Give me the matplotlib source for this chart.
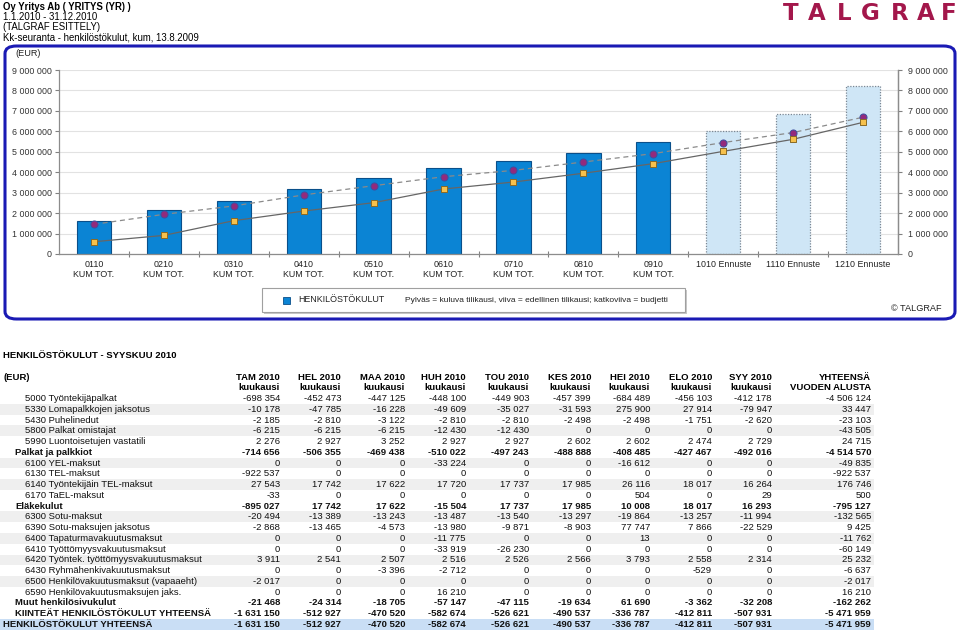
import matplotlib
matplotlib.use("Agg")
import matplotlib.pyplot as plt
from matplotlib.patches import Rectangle, FancyBboxPatch
import numpy as np

plt.rcParams['font.family'] = ['Liberation Sans', 'DejaVu Sans']

W, H = 959, 632

# ---------------- chart data ----------------
categories = ["0110\nKUM TOT.", "0210\nKUM TOT.", "0310\nKUM TOT.", "0410\nKUM TOT.",
              "0510\nKUM TOT.", "0610\nKUM TOT.", "0710\nKUM TOT.", "0810\nKUM TOT.",
              "0910\nKUM TOT.", "1010 Ennuste", "1110 Ennuste", "1210 Ennuste"]
actual = [1631150, 2144077, 2614597, 3197271, 3723892, 4214429, 4551216, 4964027, 5471958]
forecast = [6020000, 6830000, 8220000]
budget = [1450000, 1940000, 2350000, 2890000, 3340000, 3780000, 4090000, 4500000,
          4910000, 5450000, 5940000, 6690000]
previous = [600000, 910000, 1630000, 2100000, 2510000, 3180000, 3520000, 3950000,
            4420000, 5020000, 5610000, 6440000]
yticks = [0, 1000000, 2000000, 3000000, 4000000, 5000000, 6000000, 7000000, 8000000, 9000000]

# ---------------- table data ----------------
col_heads = ["TAM 2010", "HEL 2010", "MAA 2010", "HUH 2010", "TOU 2010", "KES 2010",
             "HEI 2010", "ELO 2010", "SYY 2010", "YHTEENSÄ"]
col_sub = ["kuukausi"] * 9 + ["VUODEN ALUSTA"]
row_labels = ["5000 Työntekijäpalkat", "5330 Lomapalkkojen jaksotus", "5430 Puhelinedut",
              "5800 Palkat omistajat", "5990 Luontoisetujen vastatili", "Palkat ja palkkiot",
              "6100 YEL-maksut", "6130 TEL-maksut", "6140 Työntekijäin TEL-maksut",
              "6170 TaEL-maksut", "Eläkekulut", "6300 Sotu-maksut", "6390 Sotu-maksujen jaksotus",
              "6400 Tapaturmavakuutusmaksut", "6410 Työttömyysvakuutusmaksut",
              "6420 Työntek. työttömyysvakuutusmaksut", "6430 Ryhmähenkivakuutusmaksut",
              "6500 Henkilövakuutusmaksut (vapaaeht)", "6590 Henkilövakuutusmaksujen jaks.",
              "Muut henkilösivukulut", "KIINTEÄT HENKILÖSTÖKULUT YHTEENSÄ",
              "HENKILÖSTÖKULUT YHTEENSÄ"]
row_kind = ["d", "d", "d", "d", "d", "s", "d", "d", "d", "d", "s", "d", "d", "d", "d", "d",
            "d", "d", "d", "s", "s", "t"]
table_values = [
    [-698354, -452473, -447125, -448100, -449903, -457399, -684489, -456103, -412178, -4506124],
    [-10178, -47785, -16228, -49609, -35027, -31593, 275900, 27914, -79947, 33447],
    [-2185, -2810, -3122, -2810, -2810, -2498, -2498, -1751, -2620, -23103],
    [-6215, -6215, -6215, -12430, -12430, 0, 0, 0, 0, -43505],
    [2276, 2927, 3252, 2927, 2927, 2602, 2602, 2474, 2729, 24715],
    [-714656, -506355, -469438, -510022, -497243, -488888, -408485, -427467, -492016, -4514570],
    [0, 0, 0, -33224, 0, 0, -16612, 0, 0, -49835],
    [-922537, 0, 0, 0, 0, 0, 0, 0, 0, -922537],
    [27543, 17742, 17622, 17720, 17737, 17985, 26116, 18017, 16264, 176746],
    [-33, 0, 0, 0, 0, 0, 504, 0, 29, 500],
    [-895027, 17742, 17622, -15504, 17737, 17985, 10008, 18017, 16293, -795127],
    [-20494, -13389, -13243, -13487, -13540, -13297, -19864, -13257, -11994, -132565],
    [-2868, -13465, -4573, -13980, -9871, -8903, 77747, 7866, -22529, 9425],
    [0, 0, 0, -11775, 0, 0, 13, 0, 0, -11762],
    [0, 0, 0, -33919, -26230, 0, 0, 0, 0, -60149],
    [3911, 2541, 2507, 2516, 2526, 2566, 3793, 2558, 2314, 25232],
    [0, 0, -3396, -2712, 0, 0, 0, -529, 0, -6637],
    [-2017, 0, 0, 0, 0, 0, 0, 0, 0, -2017],
    [0, 0, 0, 16210, 0, 0, 0, 0, 0, 16210],
    [-21468, -24314, -18705, -57147, -47115, -19634, 61690, -3362, -32208, -162262],
    [-1631150, -512927, -470520, -582674, -526621, -490537, -336787, -412811, -507931, -5471959],
    [-1631150, -512927, -470520, -582674, -526621, -490537, -336787, -412811, -507931, -5471959],
]


def fmt(v):
    return f"{v:,}".replace(",", " ")


def fx(x):
    return x / W


def fy(y):
    return 1 - y / H


fig = plt.figure(figsize=(W / 100, H / 100), dpi=100)

# ---------------- header ----------------
hfs = 6.9
fig.text(fx(3), fy(6.5), "Oy Yritys Ab ( YRITYS (YR) )", fontsize=hfs, weight='bold', va='center')
fig.text(fx(3), fy(16.5), "1.1.2010 - 31.12.2010", fontsize=hfs, va='center')
fig.text(fx(3), fy(27), "(TALGRAF ESITTELY)", fontsize=hfs, va='center')
fig.text(fx(3), fy(37.5), "Kk-seuranta - henkilöstökulut, kum, 13.8.2009", fontsize=hfs, va='center')

logo_letters = "TALGRAF"
logo_x = [791, 817, 844, 870, 900, 926, 949]
for ch, xx in zip(logo_letters, logo_x):
    fig.text(fx(xx), fy(13), ch, fontsize=16.5, weight='heavy', color='#a3174b',
             ha='center', va='center', family='DejaVu Sans')

# ---------------- frame ----------------
frame = FancyBboxPatch((fx(5), fy(319)), fx(950), (319 - 46) / H,
                       boxstyle="round,pad=0,rounding_size=0.012",
                       transform=fig.transFigure, fill=False, edgecolor='#1a1ab4',
                       linewidth=2.2, zorder=0)
fig.patches.append(frame)

# ---------------- chart ----------------
ax = fig.add_axes([fx(59), fy(254), fx(898 - 59), 184 / H])
x = np.arange(len(categories))
n_act = len(actual)
ax.bar(x[:n_act], actual, width=0.49, color='#0b84d4', edgecolor='#0a4f8a', linewidth=0.8, zorder=2)
ax.bar(x[n_act:], forecast, width=0.49, color='#cfe6f6', edgecolor='#7b8794',
       linewidth=0.9, linestyle=(0, (1, 1.2)), zorder=2)
ax.plot(x, budget, color='#8a8a8a', linestyle=(0, (4, 3)), linewidth=0.9, zorder=3)
ax.plot(x, previous, color='#666666', linestyle='-', linewidth=0.9, zorder=3)
ax.scatter(x, budget, s=26, marker='o', color='#932a7c', edgecolor='#3d4fa0', linewidth=0.7, zorder=4)
ax.scatter(x, previous, s=24, marker='s', color='#f6c14d', edgecolor='#8a6a25', linewidth=0.7, zorder=4)

ax.set_xlim(-0.5, len(categories) - 0.5)
ax.set_ylim(0, 9000000)
ax.set_yticks(yticks)
ax.set_yticklabels([fmt(v) for v in yticks], fontsize=6.4, color='#333333')
ax.yaxis.grid(True, color='#e2e2e2', linewidth=0.8, zorder=0)
ax.set_axisbelow(True)
ax.set_xticks(x)
ax.set_xticklabels(categories, fontsize=6.4, color='#222222', linespacing=1.15)
ax.tick_params(axis='x', length=0, pad=4.5)
ax.set_xticks(np.arange(0.5, len(categories) - 1, 1), minor=True)
ax.tick_params(axis='x', which='minor', length=4, color='#808080', width=0.8, direction='inout')
ax.tick_params(axis='y', length=3, color='#808080', width=0.8, pad=2)
ax.spines['top'].set_visible(False)
for s in ['left', 'right', 'bottom']:
    ax.spines[s].set_color('#8c8c8c')
    ax.spines[s].set_linewidth(0.9)

ax2 = ax.twinx()
ax2.set_ylim(ax.get_ylim())
ax2.set_yticks(yticks)
ax2.set_yticklabels([fmt(v) for v in yticks], fontsize=6.4, color='#333333')
ax2.tick_params(axis='y', length=3, color='#808080', width=0.8, pad=4)
for s in ['top', 'left', 'bottom']:
    ax2.spines[s].set_visible(False)
ax2.spines['right'].set_color('#8c8c8c')
ax2.spines['right'].set_linewidth(0.9)

fig.text(fx(15), fy(54), "(EUR)", fontsize=6.6, va='center', color='#222222')

# ---------------- legend ----------------
shadow = Rectangle((fx(264), fy(314)), fx(685 - 262), (314 - 290) / H, transform=fig.transFigure,
                   facecolor='#c8c8c8', edgecolor='none', zorder=1)
fig.patches.append(shadow)
leg = Rectangle((fx(262), fy(312)), fx(685 - 262), (312 - 288) / H, transform=fig.transFigure,
                facecolor='white', edgecolor='#a0a0a0', linewidth=0.8, zorder=2)
fig.patches.append(leg)
mk = Rectangle((fx(283), fy(304)), fx(7), 7 / H, transform=fig.transFigure,
               facecolor='#0b84d4', edgecolor='#0a4f8a', linewidth=0.6, zorder=3)
fig.patches.append(mk)
fig.text(fx(298), fy(300), "HENKILÖSTÖKULUT", fontsize=6.4, va='center', color='#222222', zorder=3)
fig.text(fx(405), fy(300), "Pylväs = kuluva tilikausi, viiva = edellinen tilikausi; katkoviiva = budjetti",
         fontsize=6.0, va='center', color='#222222', zorder=3)
fig.text(fx(942), fy(309), "© TALGRAF", fontsize=6.6, va='center', ha='right', color='#222222')

# ---------------- table ----------------
tfs = 6.8
fig.text(fx(3), fy(355.5), "HENKILÖSTÖKULUT - SYYSKUU 2010", fontsize=tfs, weight='bold', va='center')
fig.text(fx(3), fy(377), "(EUR)", fontsize=tfs, weight='bold', va='center')
col_right = [280, 341, 405, 466, 529, 591, 650, 712, 772, 871]
for cr, h1, h2 in zip(col_right, col_heads, col_sub):
    fig.text(fx(cr), fy(377), h1, fontsize=tfs, weight='bold', va='center', ha='right')
    fig.text(fx(cr), fy(388), h2, fontsize=tfs, weight='bold', va='center', ha='right')

row_y0, row_dy = 398.5, 10.76
detail_idx = 0
for i, (lab, kind, vals) in enumerate(zip(row_labels, row_kind, table_values)):
    yc = row_y0 + i * row_dy
    if kind == 'd':
        if detail_idx % 2 == 1:
            fig.patches.append(Rectangle((0, fy(yc + row_dy / 2)), fx(874), row_dy / H,
                                         transform=fig.transFigure, facecolor='#efefef',
                                         edgecolor='none', zorder=0))
        detail_idx += 1
        lx, wt = 25, 'normal'
    elif kind == 's':
        lx, wt = 15, 'bold'
    else:
        fig.patches.append(Rectangle((0, fy(yc + row_dy / 2)), fx(874), row_dy / H,
                                     transform=fig.transFigure, facecolor='#c9def5',
                                     edgecolor='none', zorder=0))
        lx, wt = 3, 'bold'
    fig.text(fx(lx), fy(yc), lab, fontsize=tfs, weight=wt, va='center', color='#111111')
    for cr, v in zip(col_right, vals):
        fig.text(fx(cr), fy(yc), fmt(v), fontsize=tfs, weight=wt, va='center', ha='right',
                 color='#111111')

fig.savefig("out.png", dpi=100)
